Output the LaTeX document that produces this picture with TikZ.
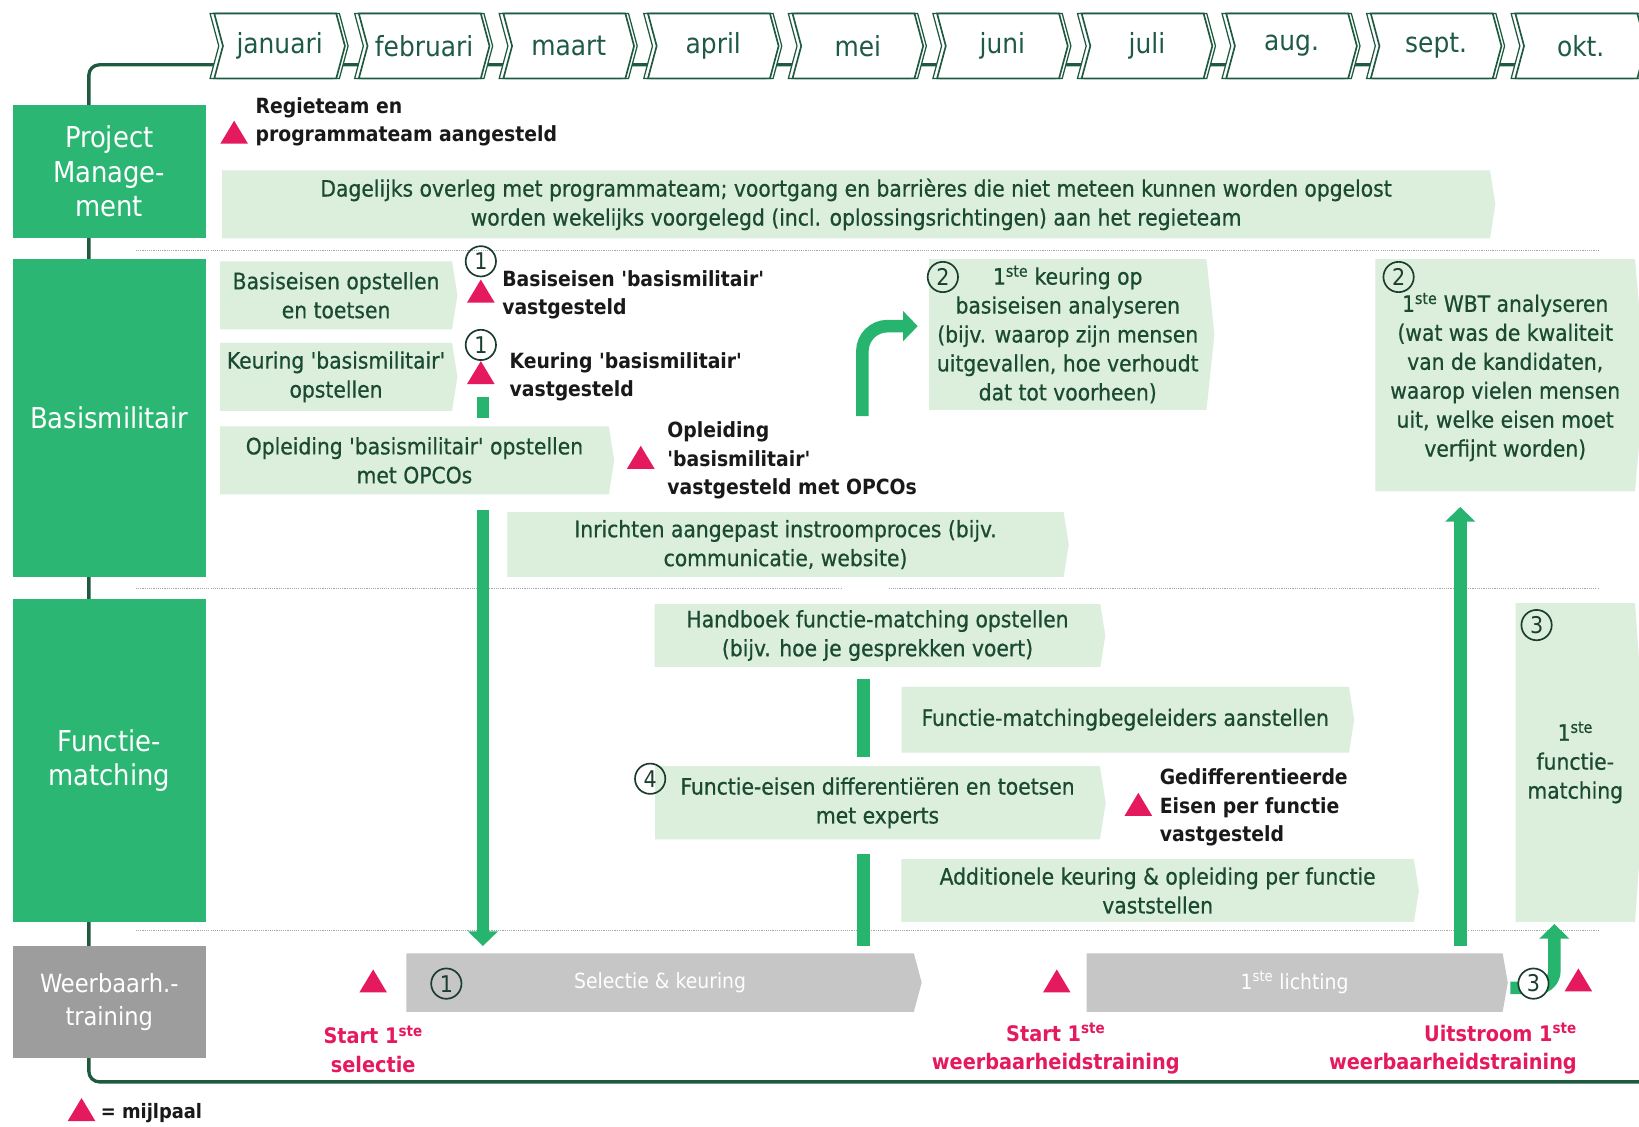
\documentclass[tikz,border=0pt]{standalone}
\usepackage{fontspec}
\setmainfont{DejaVu Sans Condensed}
\newfontfamily\boxfont[FakeBold=0.6]{DejaVu Sans Condensed}
\usetikzlibrary{shapes.symbols,shapes.geometric,arrows.meta,calc}

\definecolor{hdrgreen}{HTML}{2BB673}
\definecolor{dkgreen}{HTML}{1A4A30}
\definecolor{monthtext}{HTML}{1E5A44}
\definecolor{framegreen}{HTML}{1E5A40}
\definecolor{boxfill}{HTML}{DCEEDC}
\definecolor{milepink}{HTML}{E5195E}
\definecolor{hdrgray}{HTML}{9D9D9D}
\definecolor{bargray}{HTML}{C6C6C6}
\definecolor{arrowgreen}{HTML}{27B46E}
\definecolor{ringcol}{HTML}{1A3D2E}

\newcommand{\myq}{\textquotesingle}
\newcommand{\ste}{\textsuperscript{ste}}

\begin{document}
\begin{tikzpicture}[x=1pt,y=-1pt,
  lanehdr/.style={rectangle, fill=hdrgreen, text=white, align=center, inner sep=0,
    font=\fontsize{27.5}{33}\selectfont},
  monthbox/.style={signal, signal from=west, signal to=east, signal pointer angle=150,
    draw=framegreen, line width=1.6, fill=white, minimum width=125, minimum height=62,
    inner sep=0, text=monthtext, font=\fontsize{26.5}{30}\selectfont},
  task/.style={signal, signal to=east, signal pointer angle=162, fill=boxfill,
    text=dkgreen, align=center, inner sep=0,
    font=\boxfont\fontsize{21.6}{27.7}\selectfont},
  graybar/.style={signal, signal to=east, signal pointer angle=160, fill=bargray,
    text=white, inner sep=0, minimum height=56, font=\fontsize{20}{26}\selectfont},
  milestone/.style={isosceles triangle, isosceles triangle apex angle=62,
    shape border rotate=90, fill=milepink, inner sep=0, minimum height=22, minimum width=25},
  mslabel/.style={anchor=west, align=left, text=black!90,
    font=\bfseries\fontsize{20}{27.5}\selectfont},
  pinklabel/.style={align=center, text=milepink, font=\bfseries\fontsize{20.5}{27}\selectfont},
  ring/.style={circle, draw=ringcol, line width=1.6, minimum size=29, inner sep=0,
    text=ringcol, font=\fontsize{22}{22}\selectfont},
  sep/.style={draw=gray!70, line width=1.1, densely dotted},
  frame/.style={draw=framegreen, line width=3.2, rounded corners=10},
  garrow/.style={draw=arrowgreen, line width=12, -{Triangle[width=28,length=14]}},
  gbar/.style={draw=arrowgreen, line width=12}
]
\useasboundingbox (0,0) rectangle (1568,1078);
\fill[white] (0,0) rectangle (1568,1078);

% ---- time frame: line along the months, down the left side and along the bottom
\coordinate (ftop) at (85,62);
\coordinate (fend) at (1568,62);
\coordinate (fbot) at (1568,1035);
\draw[frame] (fend) -- (ftop) |- (fbot);

% ---- months
\foreach \i/\name in {0/januari,1/februari,2/maart,3/april,4/mei,5/juni,6/juli,7/aug.,8/sept.,9/okt.}{
  \pgfmathsetmacro{\cx}{267.5+138.3*\i}
  \node[monthbox, line width=1.2] (mb\i) at (\cx-4,44) {};
  \node[monthbox, line width=1.2] (mf\i) at (\cx+3,44) {};
  \node[monthbox] (m\i) at (\cx,44) {\name};
}

% ---- lane headers
\node[lanehdr, minimum width=185, minimum height=128] (hpm) at (104.5,164) {Project\\Manage-\\ment};
\node[lanehdr, minimum width=185, minimum height=304] (hbm) at (104.5,400) {Basismilitair};
\node[lanehdr, minimum width=185, minimum height=309] (hfm) at (104.5,727.5) {Functie-\\matching};
\node[lanehdr, fill=hdrgray, minimum width=185, minimum height=107,
      font=\fontsize{24}{31}\selectfont] (hwt) at (104.5,958.5) {Weerbaarh.-\\training};

% ---- dotted lane separators
\draw[sep] (130,240) -- (1530,240);
\draw[sep] (130,563) -- (805,563);
\draw[sep] (850,563) -- (1530,563);
\draw[sep] (130,890) -- (1530,890);

% ---- green flow arrows and bars (behind the boxes)
\coordinate (a1s) at (462,380); \coordinate (a1e) at (462,400);
\draw[gbar] (a1s) -- (a1e);
\coordinate (a2s) at (462,488); \coordinate (a2e) at (462,905);
\draw[garrow] (a2s) -- (a2e);
\coordinate (a3s) at (825,398); \coordinate (a3e) at (878,312);
\draw[garrow, rounded corners=24] (a3s) |- (a3e);
\coordinate (a4s) at (1397,905); \coordinate (a4e) at (1397,485);
\draw[garrow] (a4s) -- (a4e);
\coordinate (b1s) at (826,650); \coordinate (b1e) at (826,724);
\draw[gbar] (b1s) -- (b1e);
\coordinate (b2s) at (826,817); \coordinate (b2e) at (826,905);
\draw[gbar] (b2s) -- (b2e);
\coordinate (a5s) at (1445,945); \coordinate (a5e) at (1487,884);
\draw[garrow, rounded corners=16] (a5s) -| (a5e);

% ---- Project management
\node[milestone] (ms0) at (224,130) {};
\node[mslabel] (ms0t) at (241,116.5) {Regieteam en\\programmateam aangesteld};
\node[task, minimum width=1218, minimum height=65] (daily) at (819,195.5)
  {Dagelijks overleg met programmateam; voortgang en barrières die niet meteen kunnen worden opgelost\\
   worden wekelijks voorgelegd (incl. oplossingsrichtingen) aan het regieteam};

% ---- Basismilitair
\node[task, minimum width=227, minimum height=65] (bm1) at (321.5,282.5) {Basiseisen opstellen\\en toetsen};
\node[task, minimum width=227, minimum height=65] (bm2) at (321.5,360.5) {Keuring \myq basismilitair\myq\\opstellen};
\node[task, minimum width=377, minimum height=65] (bm3) at (396.5,440.5) {Opleiding \myq basismilitair\myq\ opstellen\\met OPCOs};
\node[task, minimum width=537, minimum height=62] (bm4) at (751.5,521) {Inrichten aangepast instroomproces (bijv.\\communicatie, website)};
\node[task, minimum width=273, minimum height=144, signal pointer angle=168] (bm5) at (1021.5,320)
  {1\ste\ keuring op\\basiseisen analyseren\\(bijv. waarop zijn mensen\\uitgevallen, hoe verhoudt\\dat tot voorheen)};
\node[task, minimum width=258, minimum height=222, signal pointer angle=170] (bm6) at (1440,359)
  {\\[-6pt]1\ste\ WBT analyseren\\(wat was de kwaliteit\\van de kandidaten,\\waarop vielen mensen\\uit, welke eisen moet\\verfijnt worden)};

\node[ring] (r1) at (460,250) {1};
\node[milestone] (ms1) at (460,282) {};
\node[mslabel] (ms1t) at (477,282) {Basiseisen \myq basismilitair\myq\\vastgesteld};
\node[ring] (r2) at (460,330) {1};
\node[milestone] (ms2) at (460,360) {};
\node[mslabel] (ms2t) at (484,360.5) {Keuring \myq basismilitair\myq\\vastgesteld};
\node[milestone] (ms3) at (613,441) {};
\node[mslabel] (ms3t) at (635,440.5) {Opleiding\\\myq basismilitair\myq\\vastgesteld met OPCOs};
\node[ring] (r3) at (902,265) {2};
\node[ring] (r4) at (1338,265) {2};

% ---- Functie-matching
\node[task, minimum width=431, minimum height=60] (fm1) at (839.5,608) {Handboek functie-matching opstellen\\(bijv. hoe je gesprekken voert)};
\node[task, minimum width=433, minimum height=63] (fm2) at (1076.5,688.5) {Functie-matchingbegeleiders aanstellen};
\node[task, minimum width=431, minimum height=70] (fm3) at (839.5,768) {Functie-eisen differentiëren en toetsen\\met experts};
\node[task, minimum width=495, minimum height=60] (fm4) at (1107.5,852) {Additionele keuring \& opleiding per functie\\vaststellen};
\node[task, minimum width=125, minimum height=305, signal pointer angle=172] (fm5) at (1507,729.5) {1\ste\\functie-\\matching};
\node[ring] (r5) at (622,745) {4};
\node[ring] (r6) at (1470,598) {3};
\node[milestone] (ms4) at (1089,773) {};
\node[mslabel] (ms4t) at (1106,772.5) {Gedifferentieerde\\Eisen per functie\\vastgesteld};

% ---- Weerbaarheidstraining
\node[graybar, minimum width=493, signal pointer angle=150] (wt1) at (631.5,940) {Selectie \& keuring};
\node[graybar, minimum width=403] (wt2) at (1238.5,940) {1\ste\ lichting};
\node[ring] (r7) at (427,941) {1};
\node[ring, fill=white] (r8) at (1467,941) {3};
\node[milestone] (ms5) at (357,942) {};
\node[milestone] (ms6) at (1011,942) {};
\node[milestone] (ms7) at (1510,941) {};
\node[pinklabel] (p5) at (357,1003.5) {Start 1\ste\\selectie};
\node[pinklabel] (p6) at (1010,1003.5) {Start 1\ste\\weerbaarheidstraining};
\node[pinklabel, align=right, anchor=east] (p7) at (1512,1003.5) {Uitstroom 1\ste\\weerbaarheidstraining};

% ---- legend
\node[milestone] (leg) at (78,1065) {};
\node[mslabel, font=\bfseries\fontsize{19}{24}\selectfont] (legt) at (93,1065) {= mijlpaal};
\end{tikzpicture}
\end{document}
